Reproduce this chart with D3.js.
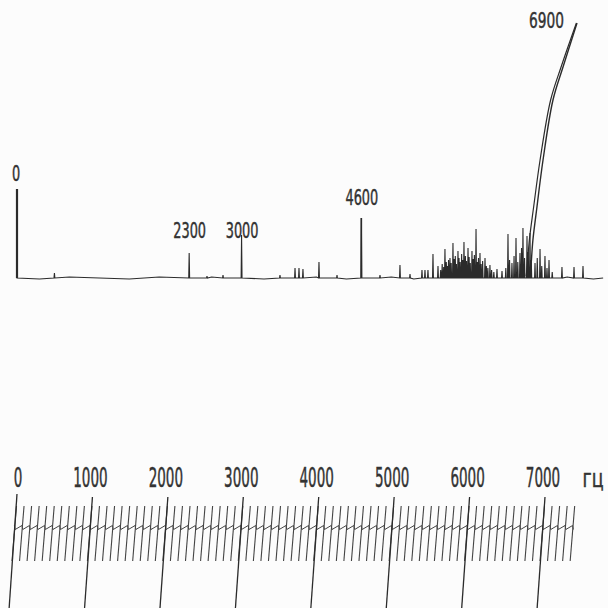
<!DOCTYPE html>
<html><head><meta charset="utf-8">
<script src="https://cdn.jsdelivr.net/npm/d3@7"></script>
<style>html,body{margin:0;padding:0;background:#fcfcfc;} svg{display:block;}</style>
</head><body>
<script>
// ---------- data ----------
const labeledPeakFreqs = [0, 2300, 3000, 4600];          // Hz
const labeledPeakHeights = [89, 25, 43, 60];             // amplitude units
const labeledPeakLabels = ["0", "2300", "3000", "4600"];

const minorPeaks = [
  [500,5],[2538,2],[2752,3],[3513,3],[3714,10],[3767,10],[3820,9],[4034,16],
  [4275,3],[4849,3],[5116,13],[5250,4],[5410,8],[5450,8],[5490,8],
  [5557,24],[5624,12],[5717,29],[5784,20],[5824,35],[5891,27],[5971,36],
  [6025,30],[6078,27],[6132,49],[6185,25],[6252,20],[6318,13],[6412,9],
  [6479,7],[6559,44],[6612,15],[6666,40],[6719,25],[6759,50],[6813,42],
  [6853,45],[6987,29],[7053,22],[7107,18],[7280,11],[7441,11],[7561,12]
];
const noisePeaks = [
  [5660,8],[5680,14],[5700,11],[5735,16],[5750,12],[5765,18],[5800,15],
  [5840,19],[5855,22],[5870,14],[5905,20],[5920,16],[5940,24],[5955,18],
  [5990,22],[6005,17],[6040,21],[6055,15],[6095,19],[6110,23],[6150,16],
  [6165,20],[6200,14],[6220,17],[6270,12],[6290,10],[6340,8],[6370,6],
  [6530,10],[6580,18],[6640,22],[6690,16],[6740,30],[6780,20],[6830,26],
  [6870,18],[6920,15],[6950,20],[7010,12],[7080,10],[7150,6]
];
const baselineWobble = [
  [300,-1],[700,1],[1100,0],[1500,-1],[1900,1],[2600,1],[3300,-1],
  [4000,1],[4400,-1],[5000,1],[5300,-1],[7350,1],[7700,-1]
];
const traceEnd = 7830;

// the swept trace of the 6900 Hz component: [Hz, amplitude]
const sweepTrace = [[6852,2],[6865,11],[6892,38],[6946,71],[7027,118],[7160,178],[7294,211],[7481,255]];
const sweepLabel = "6900";

// calibration scale (lower part)
const scaleTicks = [0, 1000, 2000, 3000, 4000, 5000, 6000, 7000];
const scaleTickLabels = ["0", "1000", "2000", "3000", "4000", "5000", "6000", "7000"];
const unitLabel = "гц";
const combStep = 100, combMax = 7400;

// ---------- drawing ----------
const W = 608, H = 608;
const ink = "#2b2b2b";
const svg = d3.select("body").append("svg").attr("width", W).attr("height", H);
svg.append("rect").attr("width", W).attr("height", H).attr("fill", "#fcfcfc");

const x = d3.scaleLinear().domain([0, 7000]).range([17, 541]);
const y = d3.scaleLinear().domain([0, 278]).range([278, 0]);

// build the spectrum trace
const spikeHalf = 6;
let pts = [[0, 0]];
const allPeaks = labeledPeakFreqs.map((f, i) => [f, labeledPeakHeights[i]])
  .concat(minorPeaks, noisePeaks);
const events = [];
allPeaks.forEach(([f, h]) => {
  events.push({f: f, pts: f === 0 ? [[0, h], [0, 0]] : [[f - spikeHalf, 0], [f, h], [f + spikeHalf, 0]]});
});
baselineWobble.forEach(([f, h]) => events.push({f: f, pts: [[f, h]]}));
events.sort((a, b) => a.f - b.f);
events.forEach(e => pts = pts.concat(e.pts));
pts.push([traceEnd, 0]);

const line = d3.line().x(d => x(d[0])).y(d => y(d[1]));
svg.append("path").attr("d", line(pts))
  .attr("fill", "none").attr("stroke", ink).attr("stroke-width", 1.1)
  .attr("stroke-linejoin", "miter");
svg.append("path").attr("d", line([[0, 0], [0, labeledPeakHeights[0]]]))
  .attr("stroke", ink).attr("stroke-width", 2.2);
svg.append("path").attr("d", line([[4600, 0], [4600, labeledPeakHeights[3]]]))
  .attr("stroke", ink).attr("stroke-width", 1.6);

// sweep (double line converging at the top)
const amax = d3.max(sweepTrace, d => d[1]);
const sweepA = d3.line().x(d => x(d[0])).y(d => y(d[1])).curve(d3.curveCatmullRom.alpha(0.5));
const sweepB = d3.line().x(d => x(d[0]) - 3.2 * Math.sqrt(1 - d[1] / amax) - 0.6)
  .y(d => y(d[1])).curve(d3.curveCatmullRom.alpha(0.5));
svg.append("path").attr("d", sweepA(sweepTrace))
  .attr("fill", "none").attr("stroke", ink).attr("stroke-width", 1.4);
svg.append("path").attr("d", sweepB(sweepTrace))
  .attr("fill", "none").attr("stroke", ink).attr("stroke-width", 1.2);

// condensed label: text drawn at font size, then squeezed horizontally to a target width
const font = "'DejaVu Sans Condensed', 'DejaVu Sans', sans-serif";
function squeezedLabel(str, cx, by, size, width, anchor) {
  const gg = svg.append("g");
  const t = gg.append("text").attr("font-family", font).attr("font-size", size)
    .attr("fill", "#333").attr("stroke", "#333").attr("stroke-width", 0.45)
    .attr("text-anchor", anchor || "middle").text(str);
  const natural = t.node().getComputedTextLength();
  const sx = width / natural;
  gg.attr("transform", `translate(${cx},${by}) scale(${sx},1)`);
}

const labelDy = [-8, -15, 3, -13];
labeledPeakFreqs.forEach((f, i) => {
  const t = labeledPeakLabels[i];
  squeezedLabel(t, x(f) + (f === 0 ? -1 : 0.5), y(labeledPeakHeights[i]) + labelDy[i], 21, t.length * 8.2);
});
const sweepTop = sweepTrace[sweepTrace.length - 1];
squeezedLabel(sweepLabel, x(sweepTop[0]) - 13, y(sweepTop[1]) + 5, 21, 35, "end");

// ---------- calibration comb ----------
const xb = d3.scaleLinear().domain([0, 7000]).range([17, 545]);
const combTop = 506, combBot = 561, combMid = 528;
const combFreqs = d3.range(0, combMax + 1, combStep);
const g = svg.append("g").attr("stroke", "#444").attr("fill", "none");
combFreqs.forEach(f => {
  g.append("line")
    .attr("x1", xb(f) - 0.5).attr("y1", combTop)
    .attr("x2", xb(f) - 5).attr("y2", combBot)
    .attr("stroke-width", 1.1);
});
let saw = [];
combFreqs.forEach(f => {
  const xm = xb(f) - 2.6;
  saw.push([xm, combMid - 2.5]);
  saw.push([xm + 0.8, combMid + 1.5]);
});
g.append("path").attr("d", d3.line()(saw)).attr("stroke-width", 1);

scaleTicks.forEach(f => {
  g.append("line")
    .attr("x1", xb(f)).attr("y1", f === 0 ? 494 : 497)
    .attr("x2", xb(f) - 8).attr("y2", 610)
    .attr("stroke", ink).attr("stroke-width", 1.3);
});
scaleTicks.forEach((f, i) => {
  const t = scaleTickLabels[i];
  squeezedLabel(t, xb(f) + (i === 0 ? 1 : -2), 487, 26, t.length * 8.6);
});
squeezedLabel(unitLabel, 593, 487, 25, 21);
</script>
</body></html>
